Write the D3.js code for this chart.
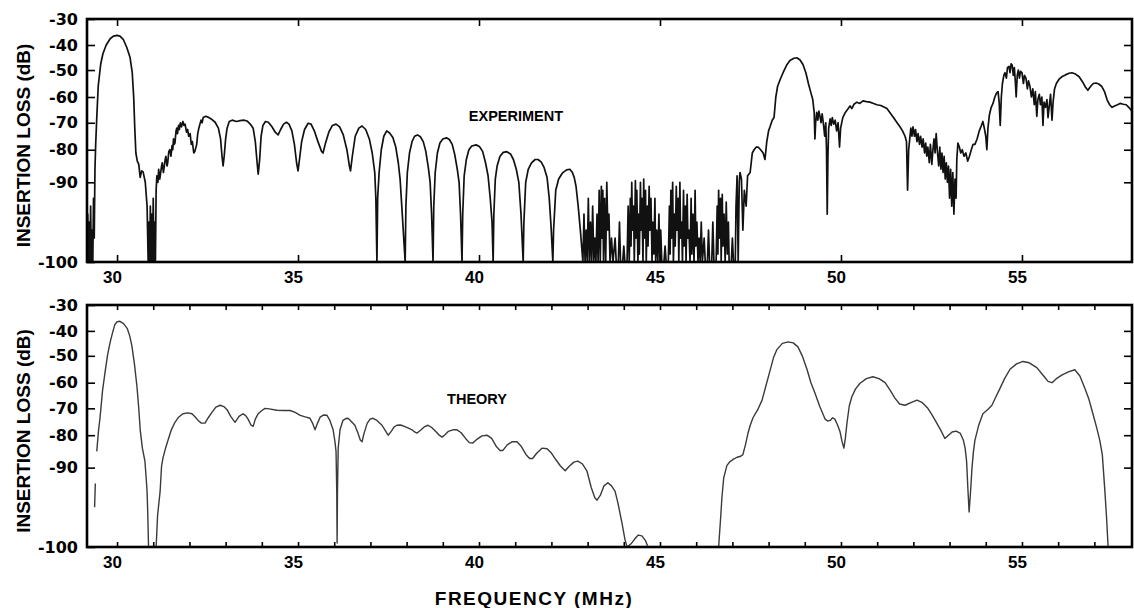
<!DOCTYPE html>
<html>
<head>
<meta charset="utf-8">
<script src="https://cdn.jsdelivr.net/npm/d3@7"></script>
<style>
  body { margin: 0; background: #fff; }
  svg { display: block; }
</style>
</head>
<body>
<div id="chart"></div>
<script>
// Insertion loss vs frequency: measured (top) and computed (bottom).
// Values are [MHz, dB], read off the scanned figure. null = pen lifted.

const yTickValues = [-100, -90, -80, -70, -60, -50, -40, -30];
const xMajorTicks = [30, 35, 40, 45, 50, 55];
const xMinorTicks = d3.range(30, 58);

// experiment: trap peak at 30 MHz and the ripply passband
const experimentPassband = [
  [29.17,-100],[29.19,-94],[29.21,-100],[29.23,-95],[29.25,-100],[29.27,-93],[29.29,-100],[29.31,-96],
  [29.33,-100],[29.35,-92],[29.37,-97],[29.39,-86],[29.41,-78],[29.44,-68],[29.48,-56],[29.55,-47.5],
  [29.61,-43.5],[29.7,-40],[29.81,-37.6],[29.9,-36.6],[30.0,-36.3],[30.08,-36.6],[30.17,-37.8],[30.27,-41],
  [30.36,-45],[30.42,-51],[30.46,-60],[30.49,-72],[30.52,-81],[30.56,-83.5],[30.6,-84.5],[30.64,-88.5],
  [30.68,-86.5],[30.72,-86.8],[30.78,-90],[30.83,-93],[30.86,-100],[30.88,-95],[30.9,-100],[30.92,-93],
  [30.94,-100],[30.96,-94],[30.98,-100],[31.0,-92],[31.02,-100],[31.04,-95],[31.06,-100],[31.08,-91],
  [31.1,-88],[31.13,-90],[31.15,-86],[31.18,-89],[31.2,-87.5],[31.23,-85],[31.25,-84],[31.28,-87],
  [31.3,-85.5],[31.33,-83],[31.35,-82],[31.38,-85],[31.4,-84],[31.43,-80.5],[31.46,-80],[31.49,-82],
  [31.52,-78.5],[31.54,-80],[31.56,-76],[31.58,-78],[31.6,-77.5],[31.63,-73],[31.65,-72],[31.67,-74],
  [31.7,-71],[31.72,-72.5],[31.75,-70],[31.78,-71.5],[31.82,-69.5],[31.85,-71],
  [31.88,-70.5],[31.92,-73.5],[31.95,-72.5],[31.98,-75],[32.02,-74],[32.05,-78],[32.08,-77],[32.12,-81],
  [32.15,-80.5],[32.2,-78],[32.23,-74],[32.26,-72],[32.29,-70.5],[32.32,-69],[32.35,-70],
  [32.38,-68],[32.45,-67.5],[32.51,-67.8],[32.6,-68.5],[32.71,-69.8],[32.8,-72],[32.86,-76],[32.9,-82],
  [32.93,-85],[32.96,-82],[33.0,-76],[33.04,-72],[33.1,-69.5],[33.18,-69],[33.3,-69.5],[33.4,-69.2],
  [33.5,-69],[33.59,-69.3],[33.68,-70.5],[33.76,-72],[33.82,-77],[33.87,-84],[33.9,-87.5],[33.94,-83],
  [33.98,-75],[34.03,-71],[34.1,-69.5],[34.18,-69.8],[34.28,-71.5],[34.37,-73.5],[34.45,-74.5],[34.52,-72.5],
  [34.6,-70.5],[34.68,-69.8],[34.75,-70.5],[34.83,-73],[34.9,-78],[34.96,-84],[35.0,-86.5],[35.04,-83],
  [35.1,-77],[35.18,-72.5],[35.28,-70.2],[35.36,-70.5],[35.45,-73],[35.55,-77],[35.65,-80.5],[35.69,-81],
  [35.75,-78],[35.85,-73.5],[35.95,-71],[36.05,-70.5],[36.15,-71.5],[36.25,-74.5],[36.35,-80],[36.42,-85],
  [36.45,-86.5],[36.5,-82],[36.58,-75],[36.68,-72],[36.77,-71.2],[36.87,-72.5],[36.97,-76],[37.05,-81],
  [37.12,-87],[37.15,-92]
];

// experiment: the deep arches between 37 and 43 MHz
const experimentArches = [
  [37.18,-100],[37.2,-92],[37.24,-87],[37.3,-80],[37.37,-75],[37.45,-73],[37.53,-73.8],[37.62,-75.5],
  [37.7,-79],[37.77,-84],[37.82,-89],[37.88,-94],[37.96,-100],
  [37.98,-93],[38.02,-87],[38.08,-81],[38.15,-77],[38.22,-75],[38.3,-74.5],[38.38,-75.2],[38.46,-77],
  [38.53,-80.5],[38.6,-85.5],[38.65,-90],[38.69,-94],[38.73,-100],
  [38.75,-93],[38.79,-87],[38.85,-81],[38.92,-77.5],[39.0,-76],[39.1,-75.6],[39.18,-76.2],[39.26,-78],
  [39.33,-81.5],[39.4,-86],[39.45,-90],[39.49,-94],[39.53,-100],
  [39.55,-94],[39.59,-88],[39.65,-83],[39.72,-80],[39.8,-78.6],[39.92,-78.2],[40.01,-78.8],[40.1,-80.5],
  [40.18,-84],[40.25,-88],[40.31,-92],[40.36,-95],[40.39,-100],
  [40.41,-94],[40.45,-89],[40.5,-85],[40.58,-82],[40.67,-80.8],[40.77,-80.6],[40.87,-81.3],[40.95,-83],
  [41.03,-86],[41.1,-90],[41.16,-94],[41.22,-100],
  [41.24,-95],[41.29,-90],[41.36,-86],[41.45,-84],[41.55,-83],[41.63,-83],[41.72,-83.8],[41.8,-85.5],
  [41.88,-88.5],[41.94,-92],[41.99,-95.5],[42.04,-100],
  [42.06,-96],[42.12,-91],[42.2,-89],[42.3,-87.2],[42.42,-86.2],[42.51,-86],[42.58,-87],[42.63,-88.5],
  [42.68,-90.5],[42.74,-93],[42.8,-96]
];

// experiment: noise floor 43 - 47 MHz
const experimentNoise = [
  [42.87,-100],[42.9,-94],[42.93,-100],[42.96,-96],[42.99,-100],[43.02,-92],[43.05,-100],[43.08,-95],
  [43.11,-100],[43.14,-93],[43.17,-100],[43.2,-97],[43.23,-100],[43.26,-94],[43.29,-100],[43.32,-91],
  [43.35,-100],[43.38,-90.5],[43.4,-97],[43.42,-91],[43.44,-100],[43.47,-92],[43.5,-100],[43.53,-90],
  [43.56,-96],[43.59,-94],[43.62,-100],[43.66,-97],[43.7,-100],[43.76,-97],[43.79,-100],[43.85,-100],
  [43.88,-95],[43.91,-100],[43.97,-100],[44.0,-98],[44.03,-100],[44.09,-100],[44.12,-93],[44.15,-100],
  [44.18,-92],[44.2,-98],[44.22,-90],[44.24,-96],[44.27,-93],[44.29,-100],[44.32,-89.5],[44.34,-97],
  [44.36,-91],[44.39,-100],[44.41,-94],[44.43,-99],[44.46,-90],[44.48,-96],[44.5,-92],[44.53,-100],
  [44.55,-89],[44.57,-97],[44.6,-91],[44.62,-100],[44.65,-93],[44.67,-98],[44.7,-90.5],[44.72,-96],
  [44.75,-92],[44.78,-100],[44.8,-95],[44.83,-99],[44.86,-92],[44.88,-100],[44.91,-96],[44.94,-100],
  [44.97,-94],[45.0,-100],[45.02,-96],[45.05,-100],[45.11,-100],[45.14,-98],
  [45.17,-100],[45.23,-100],[45.26,-93],[45.28,-99],[45.3,-91],[45.32,-97],[45.35,-90],[45.37,-100],
  [45.4,-94],[45.42,-98],[45.45,-90.5],[45.47,-96],[45.5,-92],[45.52,-100],[45.55,-90],[45.57,-97],
  [45.6,-95],[45.62,-100],[45.65,-91],[45.67,-98],[45.7,-93],[45.72,-100],[45.75,-91.5],[45.77,-97],
  [45.8,-96],[45.83,-100],[45.86,-92],[45.88,-99],[45.91,-94],[45.94,-100],[45.97,-91],[45.99,-98],
  [46.02,-95],[46.05,-100],[46.08,-97],[46.11,-100],[46.14,-95],[46.17,-100],[46.22,-97],[46.25,-100],
  [46.31,-100],[46.34,-96],[46.37,-100],[46.43,-100],
  [46.46,-95],[46.49,-100],[46.55,-100],[46.58,-93],[46.6,-99],[46.62,-91],[46.64,-97],[46.67,-92],
  [46.69,-100],[46.72,-91.5],[46.74,-98],[46.77,-94],[46.8,-100],[46.83,-92.5],[46.86,-99],[46.89,-95],
  [46.91,-100],[46.97,-100],
  [47.0,-97],[47.03,-100],[47.08,-100],[47.1,-93],[47.13,-88],[47.16,-100],[47.19,-90]
];

// experiment: upper band 47 - 58 MHz
const experimentUpper = [
  [47.21,-87],[47.25,-89],[47.29,-96],[47.33,-91],[47.38,-93],[47.42,-88],[47.49,-87],[47.55,-81],
  [47.6,-80],[47.66,-79],[47.71,-79],[47.78,-80],[47.85,-81],[47.9,-83],[47.95,-77],[48.0,-73],
  [48.04,-71.5],[48.1,-69],[48.15,-68],[48.2,-60],[48.25,-56],[48.32,-53.5],[48.4,-51],[48.5,-48],
  [48.59,-46.2],[48.7,-45.3],[48.78,-45.1],[48.87,-46],[48.95,-47.8],[49.03,-51],[49.1,-55],[49.16,-58],
  [49.22,-61],[49.26,-66],[49.28,-76],[49.3,-70],[49.33,-66],[49.36,-69],[49.39,-65.5],[49.42,-67.5],
  [49.45,-70],[49.48,-66.5],[49.52,-71],[49.55,-75],[49.58,-70],[49.6,-80],[49.62,-94],[49.64,-82],
  [49.66,-72],[49.7,-68.5],[49.73,-71],[49.76,-68],[49.8,-70.5],[49.84,-69],[49.88,-73],[49.92,-70],
  [49.96,-79],[49.99,-72],[50.05,-68],[50.12,-66],[50.2,-64.5],[50.25,-63.5],[50.3,-64.5],[50.36,-62.8],
  [50.44,-62],[50.52,-62.5],[50.61,-61.5],[50.7,-61.8],[50.8,-62],[50.9,-62.5],[50.99,-63],[51.1,-63.3],
  [51.2,-64],[51.27,-64.5],[51.35,-66],[51.45,-68],[51.55,-70],[51.63,-71.5],[51.7,-73],[51.77,-75],
  [51.81,-77],[51.84,-91],[51.87,-80],[51.9,-76],[51.93,-72],[51.96,-75],[51.99,-71.5],[52.03,-75],
  [52.06,-72.5],[52.1,-77],[52.13,-74],[52.17,-78],[52.2,-75],[52.24,-79],[52.27,-76],[52.31,-81],
  [52.34,-77.5],[52.37,-82],[52.4,-79],[52.44,-84],[52.47,-78],[52.51,-84.5],[52.54,-80],[52.57,-76],
  [52.6,-81],[52.63,-74],[52.66,-80],[52.7,-85],[52.73,-79],[52.76,-86],[52.79,-81],[52.82,-87],
  [52.85,-82],[52.88,-89],[52.91,-84],[52.94,-90],[52.97,-85],[53.0,-92],[53.03,-86],[53.06,-93],
  [53.09,-87],[53.12,-94],[53.15,-89],[53.18,-92],[53.2,-83],[53.23,-77.5],[53.27,-79],[53.31,-81],
  [53.35,-80],[53.4,-82],[53.45,-81],[53.5,-83.5],[53.55,-82],[53.6,-80],[53.65,-78],[53.7,-78],
  [53.76,-76],[53.82,-73],[53.88,-71],[53.92,-69.5],[53.96,-72],[54.0,-75],[54.03,-80],[54.06,-72],
  [54.1,-67],[54.15,-64],[54.2,-62.5],[54.25,-60],[54.3,-58.5],[54.34,-58],[54.37,-62],[54.4,-71],
  [54.43,-60],[54.46,-55],[54.5,-52],[54.53,-51],[54.57,-53],[54.6,-49],[54.64,-48.5],[54.67,-51],
  [54.7,-47.5],[54.73,-48],[54.76,-52],[54.79,-49],[54.82,-55],[54.84,-60],[54.87,-52],[54.9,-50],
  [54.93,-53],[54.96,-50.5],[55.0,-51],[55.04,-55],[55.07,-52],[55.11,-53],[55.15,-57],[55.18,-54],
  [55.22,-56],[55.26,-60],[55.3,-57],[55.34,-63],[55.37,-58],[55.41,-67.5],[55.44,-61],[55.48,-59],
  [55.51,-63],[55.55,-60],[55.58,-71],[55.61,-62],[55.65,-64],[55.69,-61],[55.72,-68],[55.75,-64],
  [55.79,-59],[55.83,-69],[55.86,-62],[55.9,-57],[55.95,-55],[56.02,-53.5],[56.1,-52.5],[56.2,-51.8],
  [56.3,-51.2],[56.38,-51],[56.48,-51.5],[56.58,-52.5],[56.68,-54.5],[56.76,-56.5],[56.82,-57.5],[56.9,-56],
  [56.97,-55],[57.05,-54.8],[57.12,-55.2],[57.2,-56],[57.28,-58],[57.35,-61],[57.42,-63],[57.49,-64],
  [57.56,-63.5],[57.64,-63],[57.71,-62.5],[57.8,-62.8],[57.88,-63],[57.95,-64],[58.04,-65.5]
];

// theory: lower band, trap and passband
const theoryLower = [
  [29.38,-95],[29.4,-92], null,
  [29.44,-85],[29.49,-78],[29.53,-73.5],[29.6,-63],[29.67,-56],[29.74,-49.5],[29.81,-44.5],[29.88,-40.5],
  [29.94,-37.5],[30.01,-36.4],[30.08,-36.3],[30.18,-37.2],[30.28,-39],[30.35,-42],[30.41,-46],[30.48,-53],
  [30.55,-61.5],[30.6,-70],[30.64,-78],[30.7,-84],[30.77,-88],[30.8,-91],[30.83,-93],[30.85,-96],
  [30.87,-100], null,
  [31.08,-100],[31.12,-96],[31.19,-93],[31.23,-89.5],[31.27,-87],[31.34,-84],[31.41,-81.5],[31.5,-78],
  [31.6,-75.2],[31.7,-73.3],[31.82,-72],[31.95,-71.7],[32.07,-72],[32.16,-73.2],[32.24,-74.5],[32.33,-75.5],
  [32.43,-75.5],[32.52,-73.5],[32.62,-71.5],[32.73,-69.5],[32.85,-68.8],[32.95,-69.3],[33.04,-70.5],[33.14,-73],
  [33.26,-75.2],[33.37,-73],[33.48,-72],[33.56,-72.8],[33.62,-74],[33.7,-76.2],[33.76,-76.7],[33.82,-74],
  [33.9,-72],[34.0,-70.8],[34.09,-70],[34.2,-70.2],[34.42,-70.7],[34.6,-70.8],[34.78,-70.8],[34.92,-71.5],
  [35.06,-72.6],[35.2,-73.2],[35.33,-73.7],[35.4,-75.5],[35.47,-78],[35.54,-75.5],[35.61,-73.3],[35.7,-72.5],
  [35.8,-72.6],[35.88,-74.5],[35.97,-78],[36.02,-82],[36.05,-85],[36.07,-93],[36.08,-99.5],[36.09,-93],
  [36.11,-84],[36.16,-78],[36.24,-74.5],[36.32,-73.8],[36.38,-73.7],[36.48,-75],[36.57,-76.3],[36.65,-79],
  [36.72,-81.5],[36.77,-82],[36.82,-79.5],[36.91,-75.6],[36.99,-74],[37.07,-73.7],[37.18,-74.5],[37.32,-76.3],
  [37.42,-78.5],[37.49,-80],[37.58,-78.5],[37.65,-77],[37.73,-76.3],[37.82,-76.2],[37.9,-76.5],[38.02,-77.2],
  [38.15,-78],[38.22,-78.8],[38.29,-79.2],[38.4,-78],[38.5,-76.8],[38.59,-76.3],[38.7,-77.2],[38.82,-78.8],
  [38.9,-80],[38.98,-80.6],[39.06,-79.8],[39.15,-78.6],[39.28,-78],[39.39,-78],[39.5,-79],[39.63,-81],
  [39.73,-82.3],[39.83,-82.4],[39.95,-81.2],[40.08,-80.2],[40.22,-80],[40.35,-81],[40.48,-83.5],[40.58,-84.7],
  [40.66,-84.7],[40.78,-83],[40.92,-82],[41.05,-82],[41.17,-83.5],[41.3,-86],[41.4,-87.2],[41.48,-87.2],
  [41.6,-85.5],[41.74,-84],[41.88,-84.2],[42.0,-85.5],[42.12,-87.5],[42.25,-89.5],[42.38,-90.4],[42.5,-89.5],
  [42.62,-88.3],[42.73,-88],[42.85,-88.8],[42.98,-90.4],[43.1,-92.5],[43.2,-93.8],[43.26,-94.1],[43.35,-93.5],
  [43.45,-92.3],[43.56,-91.9],[43.66,-92.3],[43.76,-93],[43.84,-94.5],[43.95,-97],[44.03,-99],[44.09,-100],
  [44.2,-99.6],[44.3,-99],[44.4,-98.5],[44.5,-98.6],[44.6,-99.2],[44.67,-100]
];

// theory: upper band
const theoryUpper = [
  [46.62,-100],[46.68,-96],[46.71,-93.8],[46.76,-91.3],[46.85,-89.3],[46.93,-88.2],[47.03,-87.4],[47.13,-86.8],
  [47.23,-86.5],[47.29,-86],[47.36,-83],[47.43,-79.3],[47.5,-76],[47.57,-73.5],[47.7,-70.5],[47.82,-66.8],
  [47.93,-61],[48.04,-55.5],[48.14,-50.5],[48.23,-47.5],[48.38,-45],[48.54,-44.4],[48.68,-44.8],[48.81,-46.4],
  [48.93,-50],[49.06,-55],[49.17,-60],[49.28,-64],[49.42,-69.5],[49.56,-74],[49.63,-74.7],[49.7,-74.5],
  [49.77,-73.5],[49.83,-74],[49.9,-76],[49.97,-78.5],[50.03,-82],[50.08,-84],[50.12,-81],[50.17,-75],
  [50.23,-69],[50.3,-65.5],[50.4,-62.5],[50.52,-60.3],[50.7,-58.5],[50.88,-57.8],[51.05,-58.5],[51.22,-60],
  [51.36,-63],[51.49,-66],[51.62,-68.3],[51.77,-68.8],[51.93,-67.8],[52.1,-66.8],[52.25,-67.8],[52.4,-70],
  [52.52,-72.5],[52.65,-75.6],[52.77,-78.5],[52.87,-81],[52.97,-80],[53.07,-78.8],[53.18,-78.5],[53.29,-79.2],
  [53.38,-81.5],[53.43,-84],[53.47,-88],[53.51,-93],[53.54,-95.6],[53.58,-93],[53.62,-90],[53.66,-85],
  [53.7,-81.6],[53.8,-76.5],[53.92,-72],[54.05,-70.5],[54.17,-68.8],[54.28,-65.5],[54.39,-62.3],[54.52,-58.5],
  [54.67,-55],[54.85,-53],[55.03,-52.1],[55.2,-52.6],[55.41,-54.4],[55.6,-57.5],[55.72,-59.5],[55.83,-60],
  [55.95,-58.5],[56.1,-57.2],[56.28,-56],[56.46,-55.2],[56.6,-57.5],[56.74,-62.3],[56.85,-66.5],[56.96,-72],
  [57.06,-77],[57.15,-81.6],[57.22,-86],[57.29,-92.9],[57.34,-96.5],[57.38,-100]
];

const experiment = [].concat(experimentPassband, experimentArches, experimentNoise, experimentUpper);
const theory = [].concat(theoryLower, [null], theoryUpper);

// ---- layout ----
const width = 1134, height = 608;
const plotLeft = 87, plotRight = 1132;
const panels = [
  { key: 'exp', top: 19, bottom: 262, data: experiment, label: 'EXPERIMENT', labelX: 516, labelY: 116,
    stroke: '#111', strokeWidth: 1.7, minorX: false },
  { key: 'th', top: 305, bottom: 547, data: theory, label: 'THEORY', labelX: 477, labelY: 399,
    stroke: '#3a3a3a', strokeWidth: 1.4, minorX: true }
];
// the dB axis of the recorder is not linear: fraction of panel height for each tick
const yTickFrac = [0, 0.328, 0.462, 0.573, 0.679, 0.79, 0.893, 1];

const x = d3.scaleLinear().domain([29.17, 58.04]).range([plotLeft, plotRight]);

const svg = d3.select('#chart').append('svg')
  .attr('width', width)
  .attr('height', height)
  .style('background', '#fff');

const labelFont = '"Liberation Sans", Arial, sans-serif';
const tickFont = '"DejaVu Sans", "Liberation Sans", sans-serif';

panels.forEach(p => {
  const h = p.bottom - p.top;
  const y = d3.scaleLinear()
    .domain(yTickValues)
    .range(yTickFrac.map(f => p.bottom - f * h));

  const clipId = 'clip-' + p.key;
  svg.append('clipPath').attr('id', clipId)
    .append('rect')
    .attr('x', plotLeft).attr('y', p.top)
    .attr('width', plotRight - plotLeft).attr('height', h);

  // curve
  const line = d3.line()
    .defined(d => d !== null)
    .x(d => x(d[0]))
    .y(d => y(d[1]));

  svg.append('path')
    .datum(p.data)
    .attr('clip-path', `url(#${clipId})`)
    .attr('fill', 'none')
    .attr('stroke', p.stroke)
    .attr('stroke-width', p.strokeWidth)
    .attr('stroke-linejoin', 'round')
    .attr('d', line);

  // left axis with labels, ticks pointing inward
  const left = svg.append('g')
    .attr('transform', `translate(${plotLeft},0)`)
    .call(d3.axisLeft(y).tickValues(yTickValues).tickSize(-8).tickPadding(9).tickFormat(d => d));
  left.select('.domain').remove();
  left.selectAll('line').attr('stroke', '#000').attr('stroke-width', 1.6);
  left.selectAll('text')
    .attr('font-family', tickFont)
    .attr('font-weight', 'bold')
    .attr('font-size', 16)
    .attr('fill', '#000');

  // right axis, ticks only
  const right = svg.append('g')
    .attr('transform', `translate(${plotRight},0)`)
    .call(d3.axisRight(y).tickValues(yTickValues.slice(1, -1)).tickSize(-8).tickFormat(''));
  right.select('.domain').remove();
  right.selectAll('line').attr('stroke', '#000').attr('stroke-width', 1.6);

  // frequency ticks on bottom (with labels) and top
  const xTicks = p.minorX ? xMinorTicks : xMajorTicks;
  const tickLen = p.minorX ? -5 : -7;
  const bottomAxis = svg.append('g')
    .attr('transform', `translate(0,${p.bottom})`)
    .call(d3.axisBottom(x).tickValues(xTicks).tickSize(tickLen).tickPadding(9)
      .tickFormat(d => d % 5 === 0 ? d : ''));
  bottomAxis.select('.domain').remove();
  bottomAxis.selectAll('line').attr('stroke', '#000').attr('stroke-width', 1.6);
  bottomAxis.selectAll('text')
    .attr('dx', -5)
    .attr('font-family', labelFont)
    .attr('font-weight', 'bold')
    .attr('font-size', 17)
    .attr('fill', '#000');

  const topAxis = svg.append('g')
    .attr('transform', `translate(0,${p.top})`)
    .call(d3.axisTop(x).tickValues(xTicks).tickSize(tickLen).tickFormat(''));
  topAxis.select('.domain').remove();
  topAxis.selectAll('line').attr('stroke', '#000').attr('stroke-width', 1.6);

  // frame
  svg.append('rect')
    .attr('x', plotLeft).attr('y', p.top)
    .attr('width', plotRight - plotLeft).attr('height', h)
    .attr('fill', 'none')
    .attr('stroke', '#000')
    .attr('stroke-width', 2.6);

  // panel caption
  svg.append('text')
    .attr('x', p.labelX).attr('y', p.labelY)
    .attr('text-anchor', 'middle')
    .attr('dominant-baseline', 'central')
    .attr('font-family', labelFont)
    .attr('font-weight', 'bold')
    .attr('font-size', 14.5)
    .text(p.label);

  // y title
  svg.append('text')
    .attr('transform', `translate(23,${(p.top + p.bottom) / 2 + 5}) rotate(-90)`)
    .attr('text-anchor', 'middle')
    .attr('dominant-baseline', 'central')
    .attr('font-family', labelFont)
    .attr('font-weight', 'bold')
    .attr('font-size', 19)
    .text('INSERTION LOSS (dB)');
});

svg.append('text')
  .attr('x', 534).attr('y', 598)
  .attr('text-anchor', 'middle')
  .attr('dominant-baseline', 'central')
  .attr('font-family', labelFont)
  .attr('font-weight', 'bold')
  .attr('font-size', 19)
  .attr('letter-spacing', 1.5)
  .text('FREQUENCY (MHz)');
</script>
</body>
</html>
